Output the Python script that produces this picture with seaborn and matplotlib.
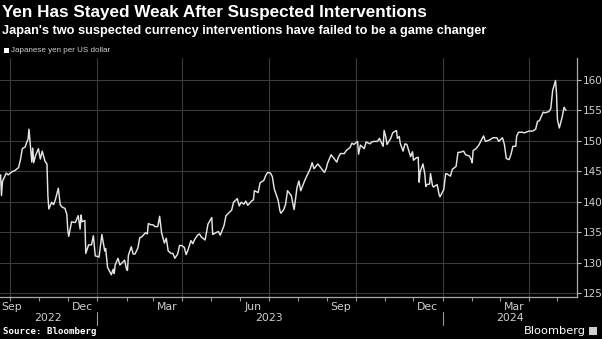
import matplotlib
matplotlib.use("Agg")
import matplotlib.pyplot as plt
import matplotlib.dates as mdates
import matplotlib.transforms as mtransforms
from matplotlib.patches import Rectangle
import pandas as pd
import seaborn as sns

# ---------------- data ----------------
dates = [
    "2022-09-20", "2022-09-21", "2022-09-22", "2022-09-23", "2022-09-27", "2022-09-29",
    "2022-10-03", "2022-10-06", "2022-10-10", "2022-10-12", "2022-10-14", "2022-10-17",
    "2022-10-19", "2022-10-20", "2022-10-21", "2022-10-24", "2022-10-25", "2022-10-26",
    "2022-10-28", "2022-10-31", "2022-11-02", "2022-11-04", "2022-11-07", "2022-11-09",
    "2022-11-10", "2022-11-11", "2022-11-14", "2022-11-16", "2022-11-18", "2022-11-21",
    "2022-11-23", "2022-11-25", "2022-11-28", "2022-11-30", "2022-12-01", "2022-12-02",
    "2022-12-05", "2022-12-07", "2022-12-09", "2022-12-12", "2022-12-14", "2022-12-15",
    "2022-12-16", "2022-12-19", "2022-12-20", "2022-12-22", "2022-12-23", "2022-12-26",
    "2022-12-28", "2022-12-30",
    "2023-01-03", "2023-01-05", "2023-01-06", "2023-01-09", "2023-01-10", "2023-01-12",
    "2023-01-16", "2023-01-17", "2023-01-18", "2023-01-19", "2023-01-20", "2023-01-23",
    "2023-01-25", "2023-01-27", "2023-01-30", "2023-02-01", "2023-02-02", "2023-02-03",
    "2023-02-06", "2023-02-08", "2023-02-10", "2023-02-13", "2023-02-15", "2023-02-17",
    "2023-02-21", "2023-02-23", "2023-02-24", "2023-02-27", "2023-03-01", "2023-03-03",
    "2023-03-06", "2023-03-08", "2023-03-09", "2023-03-10", "2023-03-13", "2023-03-15",
    "2023-03-17", "2023-03-20", "2023-03-22", "2023-03-24", "2023-03-27", "2023-03-29",
    "2023-03-31", "2023-04-03", "2023-04-05", "2023-04-07", "2023-04-10", "2023-04-12",
    "2023-04-14", "2023-04-17", "2023-04-19", "2023-04-21", "2023-04-25", "2023-04-28",
    "2023-05-02", "2023-05-03", "2023-05-05", "2023-05-09", "2023-05-11", "2023-05-15",
    "2023-05-17", "2023-05-19", "2023-05-23", "2023-05-25", "2023-05-29", "2023-05-31",
    "2023-06-02", "2023-06-05", "2023-06-07", "2023-06-09", "2023-06-13", "2023-06-15",
    "2023-06-16", "2023-06-20", "2023-06-22", "2023-06-26", "2023-06-28", "2023-06-30",
    "2023-07-03", "2023-07-05", "2023-07-07", "2023-07-11", "2023-07-13", "2023-07-14",
    "2023-07-17", "2023-07-19", "2023-07-21", "2023-07-25", "2023-07-27", "2023-07-28",
    "2023-07-31", "2023-08-02", "2023-08-04", "2023-08-08", "2023-08-10", "2023-08-14",
    "2023-08-16", "2023-08-18", "2023-08-22", "2023-08-24", "2023-08-29", "2023-08-31",
    "2023-09-01", "2023-09-05", "2023-09-07", "2023-09-11", "2023-09-13", "2023-09-15",
    "2023-09-19", "2023-09-21", "2023-09-25", "2023-09-27", "2023-09-29", "2023-10-03",
    "2023-10-04", "2023-10-06", "2023-10-10", "2023-10-12", "2023-10-16", "2023-10-18",
    "2023-10-20", "2023-10-24", "2023-10-26", "2023-10-30", "2023-10-31", "2023-11-02",
    "2023-11-03", "2023-11-07", "2023-11-09", "2023-11-13", "2023-11-14", "2023-11-16",
    "2023-11-17", "2023-11-20", "2023-11-22", "2023-11-24", "2023-11-28", "2023-11-30",
    "2023-12-01", "2023-12-04", "2023-12-06", "2023-12-07", "2023-12-08", "2023-12-11",
    "2023-12-13", "2023-12-14", "2023-12-15", "2023-12-18", "2023-12-19", "2023-12-21",
    "2023-12-22", "2023-12-26", "2023-12-28", "2023-12-29",
    "2024-01-02", "2024-01-04", "2024-01-05", "2024-01-09", "2024-01-11", "2024-01-15",
    "2024-01-17", "2024-01-19", "2024-01-23", "2024-01-25", "2024-01-29", "2024-01-31",
    "2024-02-01", "2024-02-02", "2024-02-05", "2024-02-08", "2024-02-13", "2024-02-15",
    "2024-02-19", "2024-02-21", "2024-02-23", "2024-02-27", "2024-02-29", "2024-03-04",
    "2024-03-06", "2024-03-08", "2024-03-11", "2024-03-13", "2024-03-15", "2024-03-18",
    "2024-03-19", "2024-03-21", "2024-03-25", "2024-03-27", "2024-04-01", "2024-04-03",
    "2024-04-05", "2024-04-08", "2024-04-10", "2024-04-12", "2024-04-16", "2024-04-18",
    "2024-04-22", "2024-04-24", "2024-04-26", "2024-04-29", "2024-04-30", "2024-05-01",
    "2024-05-03", "2024-05-06", "2024-05-08", "2024-05-10",
]
usdjpy = [
    143.7, 144.4, 141.0, 143.3, 144.7, 144.4,
    144.9, 145.1, 145.6, 146.9, 148.7, 149.0,
    149.9, 150.2, 151.9, 146.5, 148.8, 146.4,
    147.6, 148.7, 147.0, 148.3, 146.6, 146.2,
    140.9, 138.8, 139.9, 139.5, 140.4, 142.2,
    139.5, 139.1, 138.9, 137.9, 135.3, 134.3,
    136.7, 136.6, 136.6, 137.7, 135.5, 137.8,
    136.7, 136.9, 131.5, 132.4, 132.9, 132.9,
    134.4, 131.1,
    130.9, 133.4, 134.6, 131.9, 132.3, 129.2,
    128.0, 128.5, 128.9, 128.2, 129.6, 130.7,
    129.6, 129.9, 130.4, 128.9, 128.7, 131.2,
    132.6, 131.4, 131.4, 132.4, 134.1, 134.2,
    134.9, 134.7, 136.4, 136.2, 136.2, 135.9,
    135.9, 137.6, 136.2, 134.9, 133.2, 134.0,
    131.9, 131.5, 131.5, 130.7, 131.4, 132.8,
    132.8, 132.5, 131.3, 132.1, 133.6, 133.1,
    133.8, 134.5, 134.7, 134.2, 133.7, 136.3,
    137.4, 134.6, 134.8, 135.1, 134.5, 136.1,
    137.7, 138.0, 138.6, 139.9, 140.5, 139.3,
    139.9, 139.6, 140.1, 139.4, 140.1, 140.3,
    141.8, 141.5, 143.1, 143.5, 144.3, 144.8,
    144.7, 144.1, 142.1, 140.3, 138.5, 138.1,
    138.7, 139.6, 141.8, 141.0, 139.4, 138.7,
    142.3, 143.4, 141.8, 143.4, 144.1, 145.4,
    146.4, 145.4, 146.2, 145.8, 144.8, 145.5,
    146.2, 147.7, 147.3, 146.5, 147.4, 147.9,
    147.9, 148.4, 148.9, 149.6, 149.4, 149.9,
    147.8, 149.3, 148.7, 149.8, 149.5, 149.8,
    149.9, 149.9, 150.4, 149.1, 151.7, 150.5,
    149.4, 150.4, 151.3, 151.7, 150.4, 150.7,
    149.6, 148.3, 149.5, 149.4, 147.4, 148.2,
    146.8, 147.2, 147.3, 143.2, 144.9, 146.2,
    144.5, 142.5, 142.8, 142.9, 144.6, 142.7,
    142.4, 142.8, 141.2, 140.8,
    142.0, 144.6, 144.6, 144.2, 145.3, 145.8,
    148.1, 148.1, 148.3, 147.7, 147.5, 146.9,
    146.4, 148.4, 148.7, 149.3, 150.8, 149.9,
    150.1, 150.3, 150.5, 150.5, 149.9, 150.5,
    149.4, 147.1, 146.9, 147.8, 149.1, 149.1,
    150.8, 151.4, 151.4, 151.3, 151.6, 151.6,
    151.6, 151.9, 153.2, 153.3, 154.7, 154.6,
    154.8, 155.3, 158.3, 159.9, 157.8, 153.5,
    152.1, 153.9, 155.5, 155.0,
]
y_ticks = [125, 130, 135, 140, 145, 150, 155, 160]
month_label_dates = ["2022-10-03", "2022-12-16", "2023-03-16", "2023-06-15",
                     "2023-09-15", "2023-12-16", "2024-03-16"]
month_labels = ["Sep", "Dec", "Mar", "Jun", "Sep", "Dec", "Mar"]
year_label_dates = ["2022-11-10", "2023-07-01", "2024-03-12"]
year_labels = ["2022", "2023", "2024"]
year_breaks = ["2023-01-01", "2024-01-01"]

df = pd.DataFrame({"date": pd.to_datetime(dates), "value": usdjpy})

# ---------------- style ----------------
sns.set_theme(style="dark")
plt.rcParams.update({
    "figure.facecolor": "black",
    "axes.facecolor": "black",
    "savefig.facecolor": "black",
    "text.color": "#dcdcdc",
})
plt.rcParams["font.family"] = ["DejaVu Sans"]
SANS = ["Liberation Sans", "DejaVu Sans"]

W, H = 602, 339
fig = plt.figure(figsize=(W / 100, H / 100), dpi=100)
ax_top, ax_bot, ax_right = 58, 297, 577
ax_h = ax_bot - ax_top
ax = fig.add_axes([0, 1 - ax_bot / H, ax_right / W, ax_h / H])
ax.set_facecolor("black")

sns.lineplot(data=df, x="date", y="value", ax=ax, color="#e4e4e4", linewidth=1.05)

ax.set_xlim(pd.Timestamp("2022-09-20 10:00"), pd.Timestamp("2024-05-21 16:00"))
ax.set_ylim(124.34, 163.6)
ax.set_xlabel("")
ax.set_ylabel("")

# y axis on right
ax.yaxis.tick_right()
ax.set_yticks(y_ticks)
ax.set_yticklabels([str(v) for v in y_ticks])
ax.tick_params(axis="y", colors="#bdbdbd", labelsize=7.5, length=3, width=0.8,
               direction="out", pad=1.5, labelcolor="#cfcfcf")

# x axis ticks
ax.xaxis.set_major_locator(mdates.MonthLocator(bymonth=[1, 4, 7, 10]))
ax.xaxis.set_minor_locator(mdates.MonthLocator())
ax.xaxis.set_major_formatter(plt.NullFormatter())
ax.tick_params(axis="x", which="both", colors="#9a9a9a", length=3, width=0.8,
               direction="out", bottom=True)

for side in ["top", "left"]:
    ax.spines[side].set_visible(False)
for side in ["right", "bottom"]:
    ax.spines[side].set_visible(True)
    ax.spines[side].set_color("#aaaaaa")
    ax.spines[side].set_linewidth(0.9)

ax.grid(True, which="major", axis="both", color="#3a3a3a", linewidth=0.8)
ax.set_axisbelow(True)

# month and year labels
base = mtransforms.blended_transform_factory(ax.transData, ax.transAxes)

for d, lab in zip(month_label_dates, month_labels):
    ax.text(mdates.date2num(pd.Timestamp(d)), -10 / ax_h, lab, transform=base,
            ha="center", va="center", fontsize=7.8, color="#cfcfcf")
for d, lab in zip(year_label_dates, year_labels):
    ax.text(mdates.date2num(pd.Timestamp(d)), -21 / ax_h, lab, transform=base,
            ha="center", va="center", fontsize=7.8, color="#cfcfcf")
for d in year_breaks:
    x = mdates.date2num(pd.Timestamp(d))
    ax.plot([x, x], [-15 / ax_h, -28 / ax_h], transform=base, color="#9a9a9a",
            lw=0.8, clip_on=False)

# titles
fig.text(2 / W, 1 - 12 / H, "Yen Has Stayed Weak After Suspected Interventions",
         fontsize=12.3, fontweight="bold", family=SANS,
         color="white", va="center", ha="left")
fig.text(2 / W, 1 - 31 / H,
         "Japan's two suspected currency interventions have failed to be a game changer",
         fontsize=9.15, fontweight="bold", family=SANS,
         color="white", va="center", ha="left")

# legend
fig.patches.append(Rectangle((4 / W, 1 - 53 / H), 5 / W, 5 / H, transform=fig.transFigure,
                             facecolor="white", edgecolor="none"))
fig.text(11 / W, 1 - 50.5 / H, "Japanese yen per US dollar", fontsize=5.8,
         family=SANS, color="#d0d0d0", va="center", ha="left")

# footer
fig.text(3 / W, 1 - 331 / H, "Source: Bloomberg", fontsize=6.6, fontweight="bold",
         family="DejaVu Sans Mono", color="white", va="center", ha="left")
fig.text(586 / W, 1 - 331 / H, "Bloomberg", fontsize=8.2, color="white",
         va="center", ha="right")
fig.patches.append(Rectangle((589 / W, 1 - 335 / H), 8 / W, 8 / H, transform=fig.transFigure,
                             facecolor="#cfcfcf", edgecolor="none"))

fig.savefig("out.png", dpi=100, facecolor="black")
